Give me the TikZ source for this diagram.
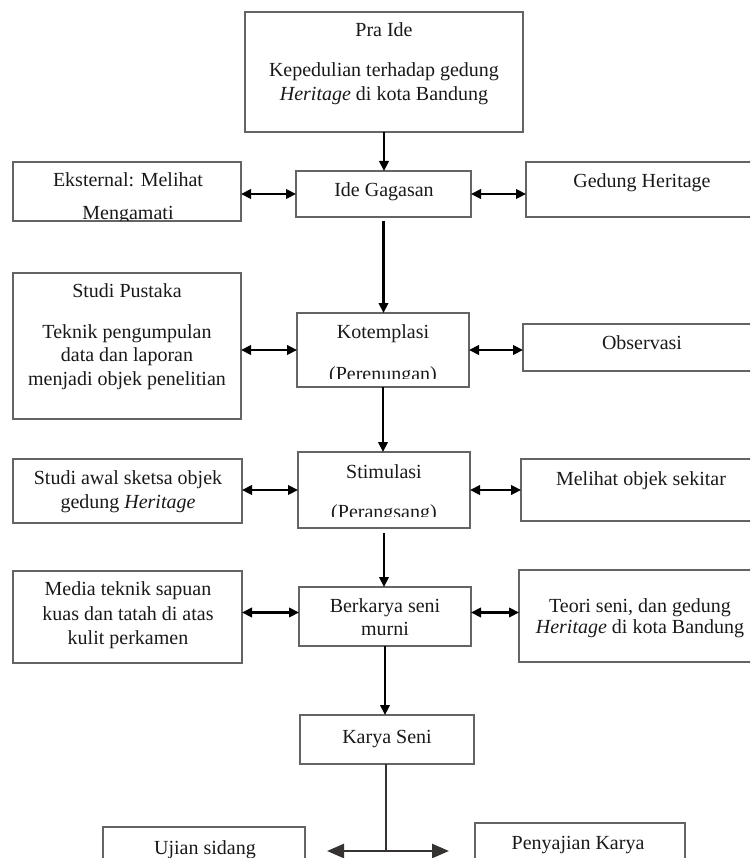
\documentclass[tikz,border=0pt]{standalone}
\usepackage{fontspec}
\setmainfont{Liberation Serif}
\usetikzlibrary{arrows.meta}
\definecolor{boxgray}{RGB}{100,100,100}
\definecolor{textcol}{RGB}{25,25,25}
\definecolor{darkline}{RGB}{55,50,50}
\begin{document}
\begin{tikzpicture}[x=1pt,y=-1pt,
  box/.style={draw=boxgray, line width=1.4pt, inner sep=0pt, outer sep=0pt, anchor=center},
  txt/.style={anchor=base, inner sep=0pt, font=\fontsize{20}{24}\selectfont, text=textcol},
  arr/.style={line width=2.2pt, -{Triangle[length=10pt,width=9.5pt]}},
  darr/.style={line width=2.2pt, {Triangle[length=10pt,width=9.5pt]}-{Triangle[length=10pt,width=9.5pt]}},
  bigarr/.style={draw=darkline, line width=2.6pt, {Triangle[length=17pt,width=14pt]}-{Triangle[length=17pt,width=14pt]}},
  stem/.style={draw=darkline, line width=2.4pt}
]
\useasboundingbox (0,0) rectangle (750,858);
\begin{scope}
\clip (0,0) rectangle (750,858);
% boxes
\node[box, minimum width=278pt, minimum height=120pt] (praide) at (384,72) {};
\node[box, minimum width=175pt, minimum height=46pt] (ide) at (383.5,194) {};
\node[box, minimum width=228pt, minimum height=59pt] (eks) at (127,191.5) {};
\node[box, minimum width=236pt, minimum height=55pt] (ged) at (644,189.5) {};
\node[box, minimum width=228pt, minimum height=146pt] (studi) at (127,346) {};
\node[box, minimum width=172pt, minimum height=74pt] (kot) at (383,350) {};
\node[box, minimum width=239pt, minimum height=47pt] (obs) at (642.5,347.5) {};
\node[box, minimum width=172pt, minimum height=76pt] (stim) at (384,490) {};
\node[box, minimum width=229pt, minimum height=64pt] (awal) at (127.5,491) {};
\node[box, minimum width=241pt, minimum height=62pt] (mel) at (641.5,490) {};
\node[box, minimum width=172pt, minimum height=59pt] (berk) at (385,616.5) {};
\node[box, minimum width=229pt, minimum height=92pt] (media) at (127.5,617) {};
\node[box, minimum width=243pt, minimum height=92pt] (teori) at (640.5,616) {};
\node[box, minimum width=174pt, minimum height=49pt] (karya) at (387,739.5) {};
\node[box, minimum width=202pt, minimum height=63pt] (ujian) at (204,858.5) {};
\node[box, minimum width=210pt, minimum height=67pt] (peny) at (580,856.5) {};
\end{scope}

% texts
\node[txt] (t1) at (384,37) {Pra Ide};
\node[txt] (t2) at (384,77) {Kepedulian terhadap gedung};
\node[txt] (t3) at (384,101) {\textit{Heritage} di kota Bandung};
\node[txt] (t4) at (384,197) {Ide Gagasan};
\node[txt] (t5) at (128,187) {Eksternal: Melihat};
\begin{scope}
\clip (eks.north west) rectangle (eks.south east);
\node[txt] (t6) at (128,220) {Mengamati};
\end{scope}
\node[txt] (t7) at (642,188) {Gedung Heritage};
\node[txt] (t8) at (127,298) {Studi Pustaka};
\node[txt] (t9) at (127,338) {Teknik pengumpulan};
\node[txt] (t10) at (127,361) {data dan laporan};
\node[txt] (t11) at (127,385) {menjadi objek penelitian};
\node[txt] (t12) at (383,338) {Kotemplasi};
\begin{scope}
\clip (kot.north west) rectangle ([yshift=9pt]kot.south east);
\node[txt] (t13) at (383,380) {(Perenungan)};
\end{scope}
\node[txt] (t14) at (642,349) {Observasi};
\node[txt] (t15) at (384,478) {Stimulasi};
\begin{scope}
\clip (stim.north west) rectangle ([yshift=11.5pt]stim.south east);
\node[txt] (t16) at (384,518) {(Perangsang)};
\end{scope}
\node[txt] (t17) at (128,484) {Studi awal sketsa objek};
\node[txt] (t18) at (128,508) {gedung \textit{Heritage}};
\node[txt] (t19) at (641,485) {Melihat objek sekitar};
\node[txt] (t20) at (385,612) {Berkarya seni};
\node[txt] (t21) at (385,635) {murni};
\node[txt] (t22) at (128,595) {Media teknik sapuan};
\node[txt] (t23) at (128,620) {kuas dan tatah di atas};
\node[txt] (t24) at (128,644) {kulit perkamen};
\node[txt] (t25) at (640,612) {Teori seni, dan gedung};
\node[txt] (t26) at (640,633) {\textit{Heritage} di kota Bandung};
\node[txt] (t27) at (387,743) {Karya Seni};
\node[txt] (t28) at (205,854) {Ujian sidang};
\node[txt] (t29) at (578,849) {Penyajian Karya};

% vertical flow
\draw[arr] (praide.south) -- (praide.south |- ide.north);
\draw[arr] ([yshift=-4pt]ide.south) -- (ide.south |- kot.north);
\draw[arr] (kot.south) -- (kot.south |- stim.north);
\draw[arr] ([yshift=-5pt]stim.south) -- (stim.south |- berk.north);
\draw[arr] (berk.south) -- (berk.south |- karya.north);

% side links
\draw[darr] (ide.west -| eks.east) -- (ide.west);
\draw[darr] (ide.east) -- (ide.east -| ged.west);
\draw[darr] (kot.west -| studi.east) -- (kot.west);
\draw[darr] (kot.east) -- (kot.east -| obs.west);
\draw[darr] (stim.west -| awal.east) -- (stim.west);
\draw[darr] (stim.east) -- (stim.east -| mel.west);
\coordinate (bl) at ([yshift=4pt]berk.west);
\coordinate (br) at ([yshift=4pt]berk.east);
\draw[darr] (bl -| media.east) -- (bl);
\draw[darr] (br) -- (br -| teori.west);

% bottom split
\path (karya.south) ++(-1,0) coordinate (stemtop);
\path (stemtop) ++(0,87) coordinate (split);
\coordinate (splitL) at (327,851);
\coordinate (splitR) at (449,851);
\draw[stem] (stemtop) -- (split);
\draw[bigarr] (splitL) -- (splitR);
\end{tikzpicture}
\end{document}
